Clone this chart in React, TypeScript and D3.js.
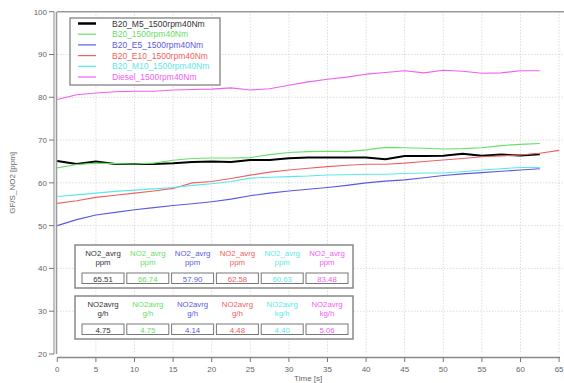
import React from "react";
import * as d3 from "d3";

// time samples [s]
const times = [0, 2.5, 5, 7.5, 10, 12.5, 15, 17.5, 20, 22.5, 25, 27.5, 30, 32.5, 35, 37.5, 40, 42.5, 45, 47.5, 50, 52.5, 55, 57.5, 60, 62.5];
const timesRed = [...times, 65];

const m5 = [65.1, 64.4, 65.0, 64.4, 64.4, 64.4, 64.6, 64.9, 65.0, 64.9, 65.35, 65.35, 65.75, 65.9, 65.9, 65.9, 65.9, 65.5, 66.3, 66.3, 66.35, 66.8, 66.35, 66.6, 66.4, 66.7];
const b20 = [63.5, 64.3, 64.6, 64.5, 64.4, 64.6, 65.3, 65.7, 65.8, 65.8, 65.9, 66.6, 67.1, 67.3, 67.4, 67.3, 67.7, 68.3, 68.2, 68.1, 67.9, 68.0, 68.2, 68.7, 69.0, 69.2];
const e5 = [50.0, 51.4, 52.5, 53.1, 53.7, 54.2, 54.7, 55.1, 55.6, 56.2, 57.0, 57.6, 58.1, 58.5, 58.9, 59.4, 60.0, 60.4, 60.7, 61.2, 61.7, 62.1, 62.4, 62.7, 63.0, 63.3];
const e10 = [55.2, 55.8, 56.6, 57.1, 57.6, 58.1, 58.7, 60.0, 60.3, 61.0, 61.8, 62.5, 63.0, 63.4, 63.8, 64.1, 64.35, 64.35, 64.6, 65.0, 65.35, 65.7, 66.1, 66.3, 66.5, 66.9, 67.6];
const m10 = [56.8, 57.2, 57.6, 58.0, 58.3, 58.6, 58.9, 59.4, 59.8, 60.3, 61.1, 61.3, 61.45, 61.6, 61.85, 61.9, 62.0, 62.0, 62.2, 62.3, 62.3, 62.6, 63.0, 63.3, 63.6, 63.6];
const diesel = [79.5, 80.6, 81.0, 81.3, 81.4, 81.4, 81.7, 81.8, 81.9, 82.2, 81.7, 82.0, 82.8, 83.6, 84.2, 84.7, 85.4, 85.8, 86.2, 85.7, 86.3, 86.1, 85.6, 85.7, 86.2, 86.2];

const seriesNames = ["B20_M5_1500rpm40Nm", "B20_1500rpm40Nm", "B20_E5_1500rpm40Nm", "B20_E10_1500rpm40Nm", "B20_M10_1500rpm40Nm", "Diesel_1500rpm40Nm"];
const seriesColors = ["#000000", "#66e066", "#5a5ae0", "#f06060", "#5ae8e8", "#f060f0"];
const seriesValues = [m5, b20, e5, e10, m10, diesel];
const seriesTimes = [times, times, times, timesRed, times, times];

const avgPpm = ["65.51", "66.74", "57.90", "62.58", "60.63", "83.48"];
const avgMass = ["4.75", "4.75", "4.14", "4.48", "4.40", "5.06"];
const massUnits = ["g/h", "g/h", "g/h", "g/h", "kg/h", "kg/h"];

const xTicks = d3.range(0, 66, 5);
const yTicks = d3.range(20, 101, 10);

const W = 564;
const H = 383;
const font = "'Liberation Sans', Arial, sans-serif";

export default function App() {
  const x = d3.scaleLinear().domain([0, 65]).range([57.3, 559.1]);
  const y = d3.scaleLinear().domain([20, 100]).range([354, 11.7]);
  const line = d3.line<[number, number]>().x((d) => x(d[0])).y((d) => y(d[1]));

  const cellX = (i: number) => 82 + i * 44.8;
  const cellW = 42;
  const txtCol = (i: number) => (i === 0 ? "#333" : seriesColors[i]);

  const table = (top: number, title: string[], units: string[], vals: string[]) => (
    <g>
      <rect x={75} y={top} width={278} height={43} fill="#fff" stroke="#888" strokeWidth={1.5} />
      {vals.map((v, i) => (
        <g key={i}>
          <text x={cellX(i) + cellW / 2} y={top + 11} textAnchor="middle" fontSize={7.8} fill={txtCol(i)}>{title[i]}</text>
          <text x={cellX(i) + cellW / 2} y={top + 20} textAnchor="middle" fontSize={7.8} fill={txtCol(i)}>{units[i]}</text>
          <rect x={cellX(i)} y={top + 28} width={cellW} height={10.5} fill="#fff" stroke="#777" strokeWidth={1} />
          <text x={cellX(i) + cellW / 2} y={top + 36.5} textAnchor="middle" fontSize={7.8} fill={txtCol(i)}>{v}</text>
        </g>
      ))}
    </g>
  );

  return (
    <svg width={W} height={H} style={{ position: "absolute", left: 0, top: 0 }} fontFamily={font}>
      <rect width={W} height={H} fill="#fff" />
      {/* grid */}
      <g stroke="#c0c0c0" strokeWidth={0.8} strokeDasharray="1,2">
        {xTicks.slice(1).map((t) => (
          <line key={"gx" + t} x1={x(t)} x2={x(t)} y1={y(100)} y2={y(20)} />
        ))}
        {yTicks.slice(1, -1).map((t) => (
          <line key={"gy" + t} x1={x(0)} x2={W} y1={y(t)} y2={y(t)} />
        ))}
      </g>
      {/* frame */}
      <line x1={x(0)} x2={W} y1={y(100)} y2={y(100)} stroke="#999" strokeWidth={1.5} />
      <line x1={54} x2={54} y1={y(100)} y2={y(20)} stroke="#888" strokeWidth={1} />
      <line x1={56.5} x2={56.5} y1={y(100)} y2={y(20)} stroke="#999" strokeWidth={1.5} />
      {/* y axis ticks */}
      {yTicks.map((t) => (
        <g key={"yt" + t}>
          <line x1={49} x2={54} y1={y(t)} y2={y(t)} stroke="#777" />
          <text x={47} y={y(t) + 3} textAnchor="end" fontSize={8} fill="#666">{t}</text>
        </g>
      ))}
      <text transform={`translate(15,${y(60)}) rotate(-90)`} textAnchor="middle" fontSize={8} fill="#666">GF/S_NO2 [ppm]</text>
      {/* x axis */}
      <line x1={x(0)} x2={x(65) + 1} y1={357.5} y2={357.5} stroke="#888" strokeWidth={1.5} />
      {xTicks.map((t) => (
        <g key={"xt" + t}>
          <line x1={x(t)} x2={x(t)} y1={357.5} y2={362} stroke="#777" />
          <text x={x(t)} y={372} textAnchor="middle" fontSize={8} fill="#666">{t}</text>
        </g>
      ))}
      <text x={x(32.5)} y={381} textAnchor="middle" fontSize={8} fill="#666">Time [s]</text>
      {/* series */}
      {seriesValues.map((vals, i) => (
        <path
          key={"s" + i}
          d={line(vals.map((v, k) => [seriesTimes[i][k], v] as [number, number])) || ""}
          fill="none"
          stroke={seriesColors[i]}
          strokeWidth={i === 0 ? 2 : 1.1}
          strokeLinejoin="round"
        />
      ))}
      {/* legend */}
      <rect x={70} y={18} width={150} height={67} fill="#fff" stroke="#777" strokeWidth={1.2} />
      {seriesNames.map((n, i) => (
        <g key={"lg" + i}>
          <line x1={78} x2={96} y1={23.5 + i * 10.7} y2={23.5 + i * 10.7} stroke={seriesColors[i]} strokeWidth={i === 0 ? 2.5 : 1.2} />
          <text x={112} y={26.5 + i * 10.7} fontSize={8.5} fill={txtCol(i)}>{n}</text>
        </g>
      ))}
      {/* average tables */}
      {table(245, seriesNames.map(() => "NO2_avrg"), seriesNames.map(() => "ppm"), avgPpm)}
      {table(296, seriesNames.map(() => "NO2avrg"), massUnits, avgMass)}
    </svg>
  );
}
